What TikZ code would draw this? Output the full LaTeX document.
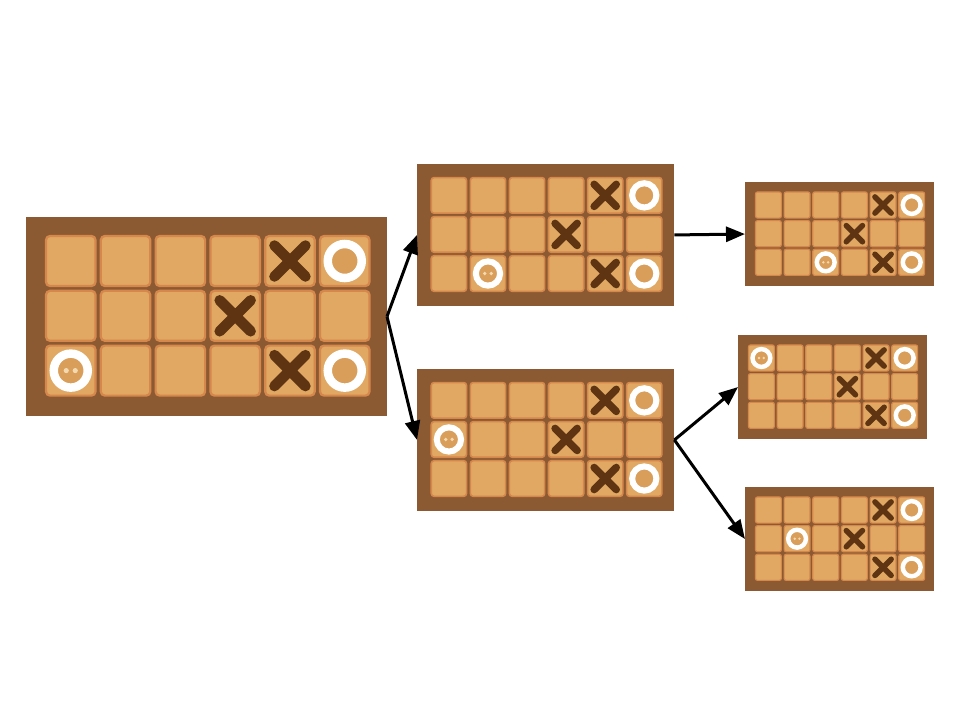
\documentclass[tikz,border=0pt]{standalone}
\usetikzlibrary{arrows.meta}
\definecolor{boardc}{HTML}{8C5A32}
\definecolor{cellc}{HTML}{E0A862}
\definecolor{rimc}{HTML}{D6874B}
\definecolor{xc}{HTML}{5E3412}
\definecolor{oin}{HTML}{D99E5A}
\definecolor{eyec}{HTML}{F3D9B0}
\tikzset{
  board/.style={fill=boardc, draw=none, inner sep=0pt, outer sep=0pt, rectangle},
  arr/.style={line width=3pt, -{Triangle[length=19pt,width=15pt]}, black},
}
% #1 name, #2 x, #3 y (top-left), #4 scale, #5 face column (0-5), #6 face row (0-2)
\newcommand\tttboard[6]{%
  \pgfmathsetmacro\bw{361*#4}\pgfmathsetmacro\bh{199*#4}%
  \node[board, minimum width=\bw pt, minimum height=\bh pt, anchor=north west] (#1) at (#2,#3) {};
  \pgfmathsetmacro\lwX{10.5*#4}\pgfmathsetmacro\lwO{8.5*#4}%
  \pgfmathsetmacro\rc{4*#4}\pgfmathsetmacro\lwR{2.2*#4}%
  \begin{scope}[shift={(#2,#3)}, scale=#4]
    \foreach \r in {0,1,2}{\foreach \c in {0,...,5}{%
      \filldraw[fill=cellc, draw=rimc, line width=\lwR pt, rounded corners=\rc pt]
        ({20+54.8*\c},{19+54.8*\r}) rectangle ++(49.5,50);}}
    % X pieces
    \foreach \c/\r in {4/0,3/1,4/2}{%
      \draw[xc, line width=\lwX pt, line cap=round]
        ({44.75+54.8*\c-15.5},{44+54.8*\r-15.5}) -- ++(31,31)
        ({44.75+54.8*\c+15.5},{44+54.8*\r-15.5}) -- ++(-31,31);}
    % O pieces
    \foreach \c/\r in {5/0,5/2,#5/#6}{%
      \filldraw[fill=oin, draw=white, line width=\lwO pt]
        ({44.75+54.8*\c},{44+54.8*\r}) circle (17);}
    % face
    \fill[eyec] ({44.75+54.8*#5-4.5},{44+54.8*#6}) circle (2.6)
                ({44.75+54.8*#5+4.5},{44+54.8*#6}) circle (2.6);
  \end{scope}}
\begin{document}
\begin{tikzpicture}[x=1pt,y=-1pt]
  \useasboundingbox (0,0) rectangle (960,720);
  \tttboard{big}{26}{217}{1}{0}{2}
  \tttboard{mt}{417}{164}{0.713}{1}{2}
  \tttboard{mb}{417}{369}{0.713}{0}{1}
  \tttboard{st}{745}{182}{0.523}{2}{2}
  \tttboard{sm}{738}{335}{0.523}{0}{0}
  \tttboard{sb}{745}{487}{0.523}{1}{1}
  \draw[arr] (big.east) -- (mt.west);
  \draw[arr] (big.east) -- (mb.west);
  \draw[arr] (mt.east) -- (st.west);
  \draw[arr] (mb.east) -- (sm.west);
  \draw[arr] (mb.east) -- (sb.west);
\end{tikzpicture}
\end{document}
